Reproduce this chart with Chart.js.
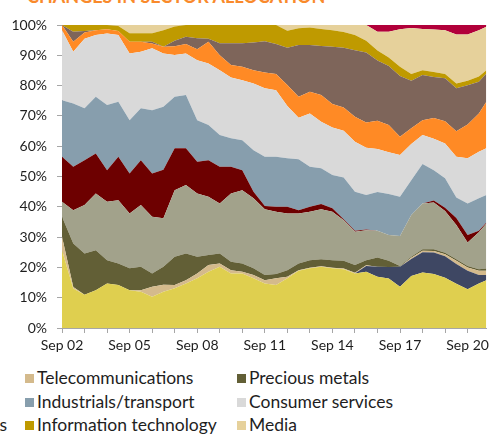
<!DOCTYPE html>
<html>
<head>
<meta charset="utf-8">
<title>Changes in sector allocation</title>
<script src="https://cdn.jsdelivr.net/npm/chart.js"></script>
<style>
  html, body { margin: 0; padding: 0; }
  body { width: 493px; height: 435px; overflow: hidden; position: relative; background: #fff; font-family: Lato, "Liberation Sans", sans-serif; }
  #title { position: absolute; left: 27px; top: -13px; font-weight: bold; font-size: 18px; line-height: 18px; color: #F98A2C; white-space: nowrap; }
  #wrap { position: absolute; left: 0; top: 0; width: 493px; height: 360px; }
  #legend { position: absolute; left: 0; top: 366px; width: 493px; height: 69px; }
  .col { position: absolute; top: 0; }
  .item { white-space: nowrap; font-size: 17.5px; line-height: 23.5px; color: #1e1e1e; }
  .box { display: inline-block; width: 9px; height: 9px; margin-right: 3px; vertical-align: middle; position: relative; top: -1px; }
</style>
</head>
<body>
  <div id="title">CHANGES IN SECTOR ALLOCATION</div>
  <div id="wrap"><canvas id="chart" width="493" height="360"></canvas></div>
  <div id="legend"></div>

  <script>
    // months since Sep 2002 (half-yearly readings, last one mid 2021)
    const months = [0, 6, 12, 18, 24, 30, 36, 42, 48, 54, 60, 66, 72, 78, 84, 90, 96, 102, 108, 114,
                    120, 126, 132, 138, 144, 150, 156, 162, 168, 174, 180, 186, 192, 198, 204, 210, 216, 222, 226];
    const yearLabels = ["Sep 02", "Sep 05", "Sep 08", "Sep 11", "Sep 14", "Sep 17", "Sep 20"];

    // sector weights in % (bottom of the stack first)
    const banks = [25.7, 13, 11, 12.5, 14.7, 14.2, 12.5, 12, 10.3, 12, 13.1, 14.7, 16.4, 18.6, 20.2, 18, 18, 16.4, 14.7, 14.2,
                   16.4, 18.9, 19.7, 20.2, 19.7, 19.4, 18, 18.6, 16.9, 16.3, 13.6, 17.2, 18.3, 17.8, 16.6, 14.6, 12.8, 14.7, 15.8];
    const insurance = [0, 0, 0, 0, 0, 0, 0, 0, 0, 0, 0, 0, 0, 0, 0, 0, 0, 0, 0, 0,
                       0, 0, 0, 0, 0, 0, 0, 1.9, 3.3, 3.8, 6.6, 5.6, 6.7, 7.1, 7.1, 6.5, 6.1, 2.8, 1.7];
    const telecom = [4.4, 0.5, 0, 0, 0, 0, 0, 0.5, 3.3, 2.3, 1.1, 1.1, 1.6, 2.2, 1.1, 1.1, 0.6, 1.1, 1.1, 2.2,
                     0.5, 0.2, 0.2, 0.2, 0.2, 0.2, 0.2, 0.2, 0, 0, 0, 0.4, 0.5, 0.5, 0.6, 1.1, 1.1, 1.4, 1.4];
    const preciousMetals = [6.6, 14.4, 13.6, 13.2, 7.7, 7.1, 7.2, 7.7, 4.4, 5.9, 9.3, 8.8, 5.5, 3.3, 3.3, 2.8, 2.7, 2.2, 1.7, 1.4,
                            2.2, 2.2, 2.5, 2.3, 2.5, 2.6, 2.6, 1.7, 3.1, 2.1, 0.3, 0.3, 0.5, 0.6, 0.5, 0.5, 0.5, 0.5, 0.7];
    const basicResources = [5, 11, 16, 18.7, 19.3, 20.9, 18.1, 20.4, 18.7, 16, 22, 22.6, 20.9, 19.2, 16.5, 22.5, 24.2, 23.1, 21.7, 20.6,
                            18.7, 16.5, 16, 16.5, 16, 13.4, 11, 9.9, 8.8, 8.5, 9.9, 13.8, 15.1, 15.4, 13.8, 11.3, 7.7, 12.2, 14.9];
    const oilGas = [14.8, 14.3, 14.8, 13.2, 10.4, 14.3, 13.2, 14.8, 14.3, 16, 13.8, 12.1, 10.5, 12.1, 12.1, 8.8, 6.6, 2.2, 1.1, 1.6,
                    2.2, 1.1, 1.6, 1.7, 1.1, 0.3, 0.3, 0.2, 0, 0, 0, 0, 0, 0.7, 1.1, 2.3, 2.5, 0.5, 0.3];
    const industrials = [18.7, 20.9, 17.1, 18.7, 21.5, 18.2, 17.6, 17.1, 20.9, 20.8, 17, 17.6, 13.7, 11.6, 10.5, 9.4, 9.9, 13.7, 16.2, 16.5,
                         16, 16.8, 13.2, 11.8, 11, 13.8, 12.9, 11.4, 12.8, 13.5, 12.9, 11.5, 13, 10, 9.7, 6.8, 10.4, 10.7, 9.1];
    const consumerServices = [23.1, 17.1, 23, 20.4, 23.6, 22, 22, 18.7, 20.4, 17.6, 13.8, 13.7, 19.8, 20.3, 21.4, 20.1, 19.8, 22, 22.6, 22,
                              17.3, 13.7, 17.6, 15.4, 15.7, 15.4, 16.5, 15.6, 14.2, 13.8, 13.8, 11.9, 9.6, 10.4, 11.5, 13.4, 14.9, 15.4, 15.4];
    const healthCare = [1.7, 3.3, 2, 1.6, 1.4, 1.3, 3.9, 3.3, 1.6, 2.2, 2.9, 3.1, 3.6, 7.2, 4.9, 4.1, 4.4, 4.4, 5.2, 5.3,
                        6.9, 6.9, 7.2, 8.8, 7.7, 7.7, 8.2, 8.3, 9.3, 9, 6, 5.2, 4.9, 6.8, 7.3, 8.4, 11.2, 12.6, 15.4];
    const construction = [0, 3.3, 0.5, 0, 0, 0, 0, 0, 0.6, 0, 1.8, 2.4, 3.6, 1, 4, 7.2, 7.8, 9.1, 10.3, 9.9,
                          12.3, 17.1, 15.4, 16.2, 18.9, 19.7, 22, 23.1, 19.9, 19.5, 20.1, 15.7, 14.9, 13.5, 14.2, 14.2, 12.9, 10.5, 9.3];
    const infoTech = [0, 2.2, 2, 1.7, 1.4, 1.7, 2.8, 2.8, 2.8, 5.5, 4.7, 3.9, 4.4, 4.5, 6, 6, 6, 5.8, 5.4, 6.3,
                      5.6, 5.5, 5.8, 5.6, 5.5, 5.2, 5, 3.9, 3.3, 2.8, 3, 2.2, 1.6, 1.7, 1.4, 1.6, 1.5, 1.7, 1.1];
    const media = [0, 0, 0, 0, 0, 0.3, 2.7, 2.7, 2.7, 1.7, 0.5, 0, 0, 0, 0, 0, 0, 0, 0, 0,
                   1.9, 1.1, 0.8, 1.3, 1.7, 2.3, 3.3, 5.2, 6.2, 8.5, 12.4, 15.2, 13.6, 14, 14.5, 16.2, 15.3, 15.3, 14.3];
    const utilities = [0, 0, 0, 0, 0, 0, 0, 0, 0, 0, 0, 0, 0, 0, 0, 0, 0, 0, 0, 0,
                       0, 0, 0, 0, 0, 0, 0, 0, 2.2, 2.2, 1.4, 1, 1.3, 1.5, 1.7, 3.1, 3.1, 1.7, 0.6];

    const series = [
      { label: "Banks", data: banks, color: "#DFCF4F" },
      { label: "Insurance", data: insurance, color: "#3E4763" },
      { label: "Telecommunications", data: telecom, color: "#D4BA8C" },
      { label: "Precious metals", data: preciousMetals, color: "#625F36" },
      { label: "Basic resources", data: basicResources, color: "#A2A28B" },
      { label: "Oil & gas", data: oilGas, color: "#6D0000" },
      { label: "Industrials/transport", data: industrials, color: "#879EAD" },
      { label: "Consumer services", data: consumerServices, color: "#D9D9D9" },
      { label: "Health care", data: healthCare, color: "#FF8A25" },
      { label: "Construction & materials", data: construction, color: "#7E655A" },
      { label: "Information technology", data: infoTech, color: "#BF9A00" },
      { label: "Media", data: media, color: "#E6D19B" },
      { label: "Utilities", data: utilities, color: "#B1003A" }
    ];

    const datasets = series.map((s, i) => ({
      label: s.label,
      data: months.map((m, j) => ({ x: m, y: s.data[j] })),
      backgroundColor: s.color,
      borderColor: s.color,
      borderWidth: 0,
      pointRadius: 0,
      fill: i === 0 ? "origin" : "-1"
    }));

    const axisGrey = "#A6A6A6";
    const tickFont = { family: "Lato, 'Liberation Sans', sans-serif", size: 14 };

    new Chart(document.getElementById("chart"), {
      type: "line",
      data: { datasets: datasets },
      options: {
        responsive: false,
        animation: false,
        layout: { padding: { top: 25, right: 2, bottom: 0, left: 0 } },
        plugins: { legend: { display: false }, tooltip: { enabled: false } },
        scales: {
          x: {
            type: "linear",
            min: 0,
            max: 226,
            afterBuildTicks: (s) => { s.ticks = s.ticks.filter(t => t.value % 12 === 0); },
            afterFit: (s) => { s.height = 32; },
            ticks: {
              stepSize: 12,
              includeBounds: false,
              autoSkip: false,
              maxRotation: 0,
              padding: 4,
              color: "#1e1e1e",
              font: tickFont,
              callback: (v) => (v % 36 === 0 ? yearLabels[v / 36] : "")
            },
            grid: { drawOnChartArea: false, drawTicks: true, tickLength: 5, color: axisGrey },
            border: { color: axisGrey }
          },
          y: {
            stacked: true,
            min: 0,
            max: 100,
            afterFit: (s) => { s.width = 62; },
            ticks: {
              stepSize: 10,
              padding: 10,
              color: "#1e1e1e",
              font: tickFont,
              callback: (v) => v + "%"
            },
            grid: {
              drawOnChartArea: true,
              color: (c) => (c.tick && c.tick.value === 100 ? "#D9D9D9" : "rgba(0,0,0,0)"),
              tickColor: axisGrey,
              tickLength: 5
            },
            border: { color: axisGrey }
          }
        }
      }
    });

    // legend: four columns filled row by row, the first two run off the left edge
    const legend = document.getElementById("legend");
    const colStyle = ["left:-430px", "right:486px", "left:25px", "left:237px"];
    const cols = colStyle.map(st => {
      const c = document.createElement("div");
      c.className = "col";
      c.setAttribute("style", st);
      legend.appendChild(c);
      return c;
    });
    series.forEach((s, i) => {
      const item = document.createElement("div");
      item.className = "item";
      item.innerHTML = '<span class="box" style="background:' + s.color + '"></span>' + s.label;
      cols[i % 4].appendChild(item);
    });
  </script>
</body>
</html>
